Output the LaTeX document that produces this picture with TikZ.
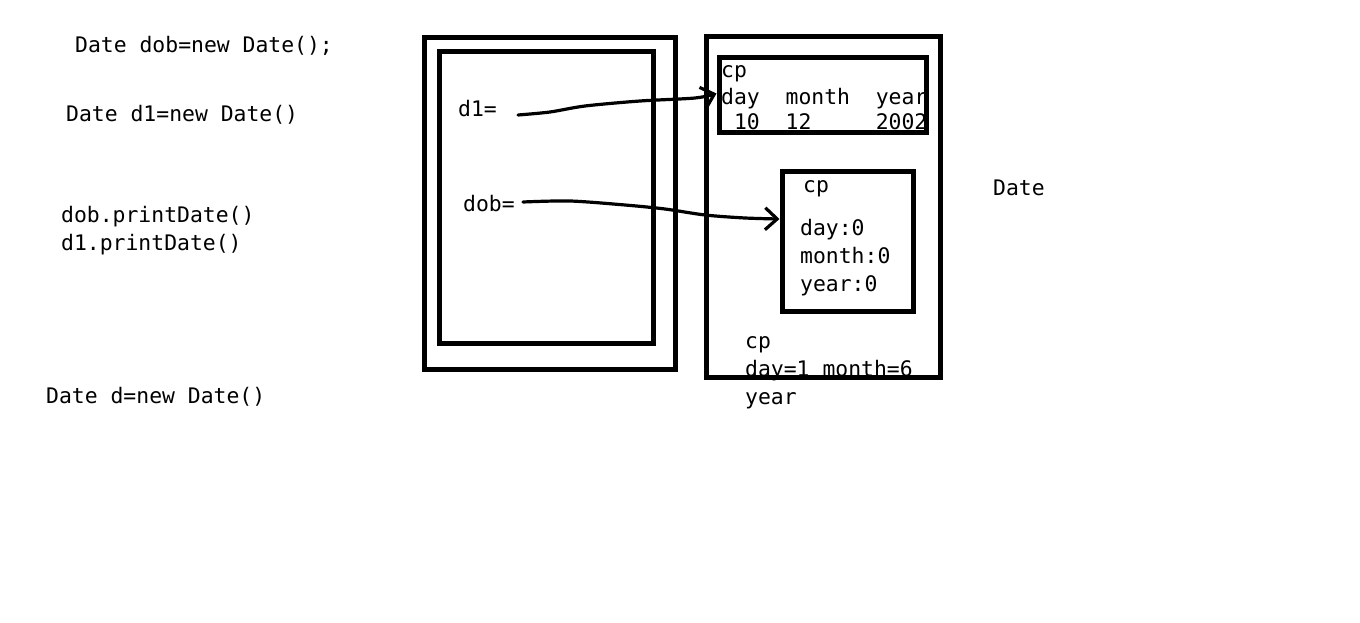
\documentclass[tikz,border=0pt]{standalone}
\usepackage{fontspec}
\setmainfont{DejaVu Sans Mono}
\usetikzlibrary{arrows.meta}
\def\boxwidth{5pt}
\def\codesize{\fontsize{21.4}{28}\selectfont}
\tikzstyle{codestyle}=[anchor=base west, inner sep=0pt, font=\codesize]
\tikzstyle{boxstyle}=[draw, line width=\boxwidth]
\tikzstyle{refstyle}=[line width=3.2pt, line cap=round, line join=round,
-{Straight Barb[length=12pt, width=22pt, line width=3.2pt]}]

\begin{document}
\begin{tikzpicture}[x=1pt, y=-1pt]
\useasboundingbox[fill=white] (0,0) rectangle (1360,623);

% Code lines
\node[codestyle] (newdob) at (75,53) {Date dob=new Date();};
\node[codestyle] (newd1) at (66,122) {Date d1=new Date()};
\node[codestyle] (printdob) at (61,222) {dob.printDate()};
\node[codestyle] (printd1) at (61,250) {d1.printDate()};
\node[codestyle] (newd) at (46,403) {Date d=new Date()};

% Stack
\draw[boxstyle] (424,38) rectangle (675,369);
\draw[boxstyle] (439,52) rectangle (653,343);
\node[codestyle] (d1ref) at (458,117) {d1=};
\node[codestyle] (dobref) at (463,211) {dob=};

% Heap
\draw[boxstyle] (706,37) rectangle (940,377);
\node[codestyle] (heaplabel) at (993,195) {Date};

% Object d1
\node[boxstyle, minimum width=207pt, minimum height=75pt, inner sep=0pt]
	(d1obj) at (822.5,95.5) {};
\begin{scope}
\clip (721,60) rectangle (924,131);
\node[codestyle] (d1cp) at (721,78) {cp};
\node[codestyle] (d1fields) at (721,105) {day~~month~~year};
\node[codestyle] (d1values) at (721,130) {~10~~12~~~~~2002};
\end{scope}

% Object dob
\node[boxstyle, minimum width=131pt, minimum height=140pt, inner sep=0pt]
	(dobobj) at (847.5,241) {};
\node[codestyle] (dobcp) at (803,193) {cp};
\node[codestyle] (dobday) at (800,235) {day:0};
\node[codestyle] (dobmonth) at (800,263) {month:0};
\node[codestyle] (dobyear) at (800,291) {year:0};

% Object d
\node[codestyle] (dcp) at (745,348) {cp};
\node[codestyle] (dday) at (745,376) {day=1 month=6};
\node[codestyle] (dyear) at (745,404) {year};

% Reference arrows
\coordinate (d1start) at ([xshift=21pt, yshift=2pt]d1ref.base east);
\coordinate (dobstart) at ([xshift=8pt, yshift=9pt]dobref.base east);
\draw[refstyle] plot[smooth, tension=0.5] coordinates
	{(d1start) (550,112) (585,106) (640,101) (695,98) ([yshift=2pt]d1obj.west)};
\draw[refstyle] plot[smooth, tension=0.5] coordinates
	{(dobstart) (570,201) (625,205) (665,209) (705,215) (745,218) ([yshift=22pt]dobobj.west)};

\end{tikzpicture}
\end{document}
